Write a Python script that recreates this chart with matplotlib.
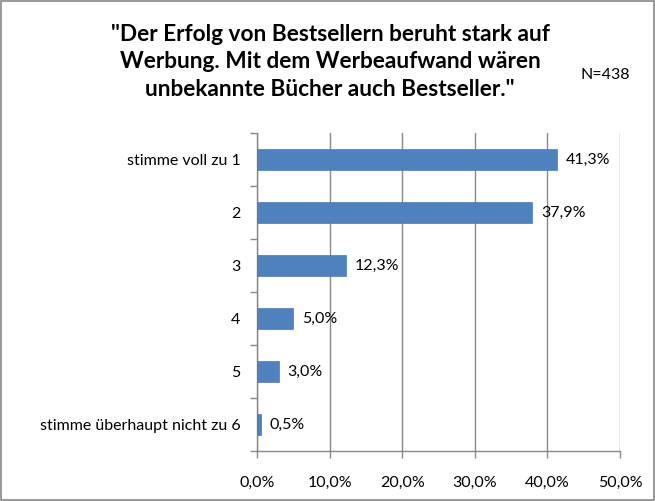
import matplotlib
matplotlib.use('Agg')
import matplotlib.pyplot as plt
from matplotlib.patches import Rectangle

plt.rcParams['font.family'] = ['Lato', 'DejaVu Sans']

categories = ['stimme voll zu 1', '2', '3', '4', '5', 'stimme überhaupt nicht zu 6']
values = [41.3, 37.9, 12.3, 5.0, 3.0, 0.5]
xticks = [0, 10, 20, 30, 40, 50]
title = '"Der Erfolg von Bestsellern beruht stark auf\nWerbung. Mit dem Werbeaufwand wären\nunbekannte Bücher auch Bestseller."'

def pct(v):
    return ('%.1f%%' % v).replace('.', ',')

fig = plt.figure(figsize=(6.55, 5.01), dpi=100)
fig.patches.append(Rectangle((0.002, 0.002), 0.996, 0.996, transform=fig.transFigure,
                             fill=False, edgecolor='#888888', linewidth=1.2))
ax = fig.add_axes([257/655, 1 - 451/501, 363/655, 318/501])

ypos = list(range(len(categories)))
ax.barh(ypos, values, height=0.4, color='#4f81bd', edgecolor='#4a7ab5', linewidth=0.5, zorder=3)
for y, v in zip(ypos, values):
    ax.text(v + 1.2, y, pct(v), va='center', ha='left', fontsize=11.5)

ax.set_ylim(len(categories) - 0.5, -0.5)
ax.set_xlim(0, 50)
ax.set_yticks(ypos)
ax.set_yticklabels(categories, fontsize=11.5)
ax.set_yticks([i + 0.5 for i in range(-1, len(categories))], minor=True)
ax.tick_params(axis='y', which='major', length=0, pad=12)
ax.tick_params(axis='y', which='minor', length=5, color='#888888', width=1)
ax.set_xticks(xticks)
ax.set_xticklabels([pct(t) for t in xticks], fontsize=11.5)
ax.tick_params(axis='x', length=5, color='#888888', width=1, pad=13)
ax.xaxis.grid(True, color='#888888', linewidth=1, zorder=0)
for s in ['top', 'right']:
    ax.spines[s].set_visible(False)
for s in ['left', 'bottom']:
    ax.spines[s].set_color('#888888')
    ax.spines[s].set_linewidth(1)

fig.text(330/655, 1 - 62/501, title, ha='center', va='center', fontsize=16.3,
         fontweight='bold', linespacing=1.36)
fig.text(605/655, 1 - 75/501, 'N=438', ha='center', va='center', fontsize=11.5)

plt.savefig('out.png', dpi=100)
